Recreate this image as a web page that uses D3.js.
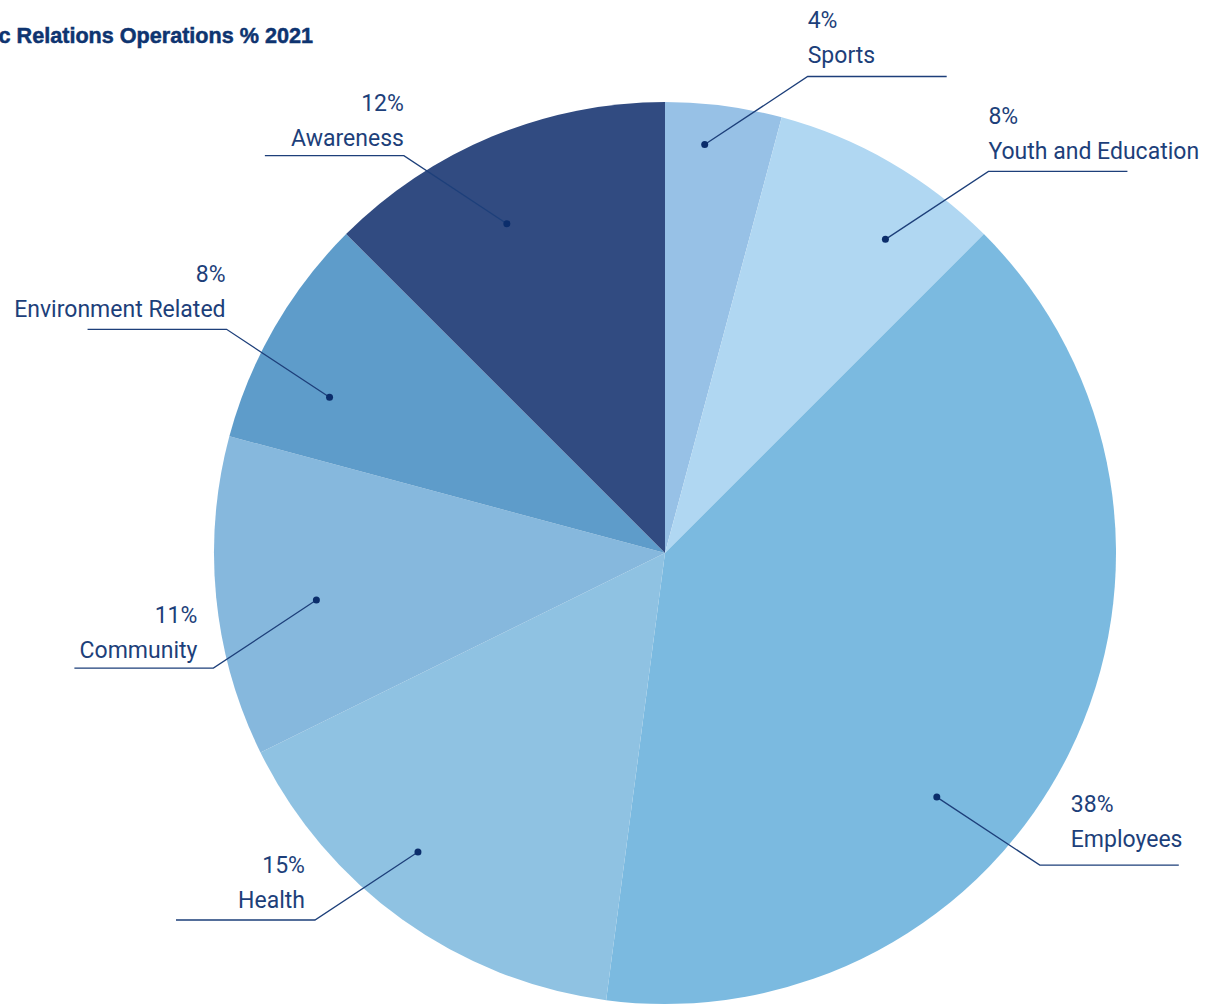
<!DOCTYPE html>
<html>
<head>
<meta charset="utf-8">
<style>
  body { margin: 0; background: #fff; }
  svg { display: block; }
</style>
</head>
<body>
<svg id="chart"></svg>
<script src="https://cdn.jsdelivr.net/npm/d3@7"></script>
<script>
/* global d3 */

// ---------- data ----------
const categories = ['Sports', 'Youth and Education', 'Employees', 'Health', 'Community', 'Environment Related', 'Awareness']
const shares = [4, 8, 38, 15, 11, 8, 12]
const colors = ['#97c1e6', '#b0d7f2', '#7bbae0', '#8fc2e2', '#86b8dd', '#5e9cca', '#314b81']
const title = 'Public Relations Operations % 2021'

// where the label dot sits inside its slice (fraction of slice angle, fraction of radius)
// and which side the leader line goes to
const labelLayout = [
  { t: 0.37, r: 0.91, side: 'right', textDx: 0, textDy: -2 },
  { t: 0.67, r: 0.85, side: 'right', textDx: 0, textDy: 0 },
  { t: 0.61, r: 0.81, side: 'right', textDx: 31, textDy: -6, down: true },
  { t: 0.57, r: 0.86, side: 'left', textDx: -10, textDy: 0, down: true },
  { t: 0.45, r: 0.78, side: 'left', textDx: -16, textDy: 2, down: true },
  { t: 0.33, r: 0.82, side: 'left', textDx: -1, textDy: 0 },
  { t: 0.43, r: 0.81, side: 'left', textDx: 0, textDy: 2 }
]

const width = 1209
const height = 1008
const cx = 665
const cy = 553
const radius = 451
const ink = '#1d3f7a'

const svg = d3.select('#chart')
  .attr('width', width)
  .attr('height', height)

// title (cut off at the left edge like the source)
svg.append('text')
  .attr('x', 313)
  .attr('y', 43)
  .attr('text-anchor', 'end')
  .attr('font-family', 'Liberation Sans, Arial, sans-serif')
  .attr('font-weight', 'bold')
  .attr('font-size', 21.6)
  .attr('fill', '#0e3470')
  .attr('stroke', '#0e3470')
  .attr('stroke-width', 0.5)
  .text(title)

const pie = d3.pie().sort(null).value(d => d)
const arcs = pie(shares)
const arc = d3.arc().innerRadius(0).outerRadius(radius)

const g = svg.append('g').attr('transform', `translate(${cx},${cy})`)

g.selectAll('path.slice')
  .data(arcs)
  .join('path')
  .attr('class', 'slice')
  .attr('d', arc)
  .attr('fill', (d, i) => colors[i])

// ---------- labels ----------
const leadX = 103
const leadY = 68
const shelf = 139

arcs.forEach((a, i) => {
  const lay = labelLayout[i]
  const ang = a.startAngle + lay.t * (a.endAngle - a.startAngle)
  const rr = lay.r * radius
  const x0 = Math.sin(ang) * rr
  const y0 = -Math.cos(ang) * rr
  const dir = lay.side === 'right' ? 1 : -1
  const x1 = x0 + dir * leadX
  const y1 = y0 + (lay.down ? leadY : -leadY)
  const x2 = x1 + dir * shelf

  g.append('path')
    .attr('d', `M${x0},${y0}L${x1},${y1}L${x2},${y1}`)
    .attr('fill', 'none')
    .attr('stroke', ink)
    .attr('stroke-width', 1.3)

  g.append('circle')
    .attr('cx', x0)
    .attr('cy', y0)
    .attr('r', 3.5)
    .attr('fill', '#0b2d6b')

  const tx = x1 + lay.textDx
  const anchor = lay.side === 'right' ? 'start' : 'end'
  const lbl = g.append('text')
    .attr('text-anchor', anchor)
    .attr('font-family', 'Roboto, sans-serif')
    .attr('font-size', 23)
    .attr('fill', ink)

  lbl.append('tspan')
    .attr('x', tx)
    .attr('y', y1 - 47 + lay.textDy)
    .text(shares[i] + '%')
  lbl.append('tspan')
    .attr('x', tx)
    .attr('y', y1 - 12 + lay.textDy)
    .text(categories[i])
})
</script>
</body>
</html>
